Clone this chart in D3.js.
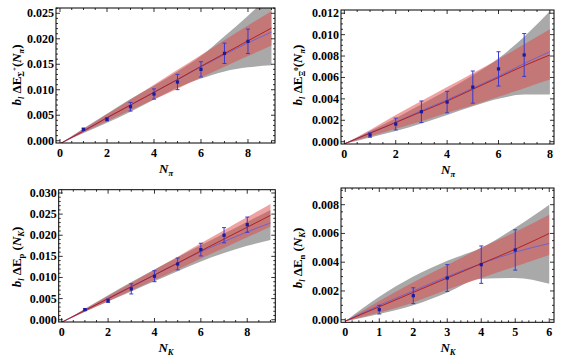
<!DOCTYPE html>
<html><head><meta charset="utf-8">
<script src="https://cdn.jsdelivr.net/npm/d3@7"></script>
<style>
body{margin:0;background:#fff;}
svg text{font-family:"Liberation Serif","Times New Roman","DejaVu Serif",serif;}
</style></head>
<body><svg id="c" width="561" height="357"></svg>
<script>
// ---------- DATA ----------
// Panel 1: Sigma+ vs N_pi
const p1PointsX = [1,2,3,4,5,6,7,8];
const p1PointsY = [0.00224,0.0042,0.00667,0.00916,0.01152,0.0140,0.01715,0.0195];
const p1Err     = [0.0002,0.0003,0.00085,0.001,0.0015,0.0015,0.002,0.0024];
const p1CurveX  = [0,1,2,3,4,5,6,7,8,9];
const p1Red     = [-0.0006,0.0019,0.0045,0.0070,0.0095,0.0120,0.0146,0.0171,0.0196,0.0221];
const p1Blue    = [-0.0006,0.0019,0.0045,0.0070,0.0095,0.0120,0.0145,0.0169,0.0192,0.0213];
const p1RedLo   = [-0.0006,0.0016,0.0038,0.0060,0.0081,0.0102,0.0124,0.0145,0.0166,0.0187];
const p1RedHi   = [-0.0006,0.0023,0.0052,0.0081,0.0110,0.0139,0.0168,0.0197,0.0226,0.0254];
const p1GrayLo  = [-0.0006,0.0015,0.0035,0.0057,0.0081,0.0104,0.0122,0.0136,0.0144,0.0148];
const p1GrayHi  = [-0.0006,0.0024,0.0053,0.0082,0.0108,0.0136,0.0166,0.0205,0.0245,0.0290];

// Panel 2: Xi0 vs N_pi
const p2PointsX = [1,2,3,4,5,6,7];
const p2PointsY = [0.00062,0.00165,0.0028,0.0037,0.0051,0.0068,0.0081];
const p2Err     = [0.0002,0.00055,0.001,0.001,0.0015,0.0016,0.002];
const p2CurveX  = [0,1,2,3,4,5,6,7,8];
const p2Red     = [-0.0002,0.0008,0.0018,0.0028,0.0038,0.0049,0.0060,0.0071,0.0081];
const p2Blue    = [-0.0002,0.0008,0.0018,0.0029,0.0039,0.0050,0.0061,0.0073,0.0084];
const p2RedLo   = [-0.0002,0.0005,0.0012,0.0019,0.0027,0.0034,0.0042,0.0050,0.0058];
const p2RedHi   = [-0.0002,0.0011,0.0025,0.0038,0.0051,0.0064,0.0077,0.0091,0.0105];
const p2GrayLo  = [-0.0002,0.0004,0.0010,0.0017,0.0025,0.0033,0.0040,0.0044,0.0044];
const p2GrayHi  = [-0.0002,0.0010,0.0022,0.0035,0.0048,0.0062,0.0078,0.0098,0.0122];

// Panel 3: proton vs N_K
const p3PointsX = [1,2,3,4,5,6,7,8];
const p3PointsY = [0.0024,0.0045,0.0073,0.0103,0.0132,0.0166,0.0200,0.0225];
const p3Err     = [0.0002,0.0004,0.0012,0.0013,0.0014,0.0015,0.0018,0.0018];
const p3CurveX  = [0,1,2,3,4,5,6,7,8,9];
const p3Red     = [-0.0006,0.0022,0.0050,0.0078,0.0106,0.0134,0.0163,0.0191,0.0219,0.0247];
const p3Blue    = [-0.0006,0.0022,0.0050,0.0078,0.0106,0.0134,0.0161,0.0185,0.0208,0.0229];
const p3RedLo   = [-0.0006,0.0019,0.0044,0.0069,0.0094,0.0119,0.0145,0.0170,0.0195,0.0220];
const p3RedHi   = [-0.0006,0.0025,0.0056,0.0087,0.0118,0.0149,0.0181,0.0212,0.0243,0.0274];
const p3GrayLo  = [-0.0006,0.0019,0.0043,0.0067,0.0091,0.0115,0.0138,0.0158,0.0175,0.0189];
const p3GrayHi  = [-0.0006,0.0026,0.0058,0.0089,0.0119,0.0148,0.0176,0.0204,0.0232,0.0260];

// Panel 4: neutron vs N_K
const p4PointsX = [1,2,3,4,5];
const p4PointsY = [0.0007,0.00167,0.0029,0.00383,0.00485];
const p4Err     = [0.0003,0.00055,0.00093,0.0013,0.0014];
const p4CurveX  = [0,1,2,3,4,5,6];
const p4Red     = [-0.0001,0.0009,0.0019,0.0029,0.0039,0.0049,0.0060];
const p4Blue    = [-0.0001,0.0010,0.0020,0.0030,0.0039,0.0047,0.0053];
const p4RedLo   = [-0.0001,0.0005,0.0012,0.0021,0.0029,0.0037,0.0045];
const p4RedHi   = [-0.0001,0.0013,0.0026,0.0038,0.0050,0.0061,0.0073];
const p4GrayLo  = [-0.0001,0.0004,0.0010,0.0019,0.00285,0.0029,0.0025];
const p4GrayHi  = [-0.0001,0.0016,0.0030,0.0041,0.0050,0.0064,0.0080];

// Tick labels
const p1XTicks = [0,2,4,6,8];
const p1YTicks = [0,0.005,0.010,0.015,0.020,0.025];
const p2XTicks = [0,2,4,6,8];
const p2YTicks = [0,0.002,0.004,0.006,0.008,0.010,0.012];
const p3XTicks = [0,2,4,6,8];
const p3YTicks = [0,0.005,0.010,0.015,0.020,0.025,0.030];
const p4XTicks = [0,1,2,3,4,5,6];
const p4YTicks = [0,0.002,0.004,0.006,0.008];

// ---------- DRAW ----------
const svg = d3.select("#c");

const panels = [
  {box:[56,275,8,143], xd:[-0.17,9.15], yd:[-0.00045,0.02604], xt:p1XTicks, yt:p1YTicks, xm:0.5, ym:0.001,
   px:p1PointsX, py:p1PointsY, pe:p1Err, cx:p1CurveX, red:p1Red, blue:p1Blue, rlo:p1RedLo, rhi:p1RedHi, glo:p1GrayLo, ghi:p1GrayHi,
   sub:"Σ", sup:"+", nsub:"π", ylab:[17,75], xlab:166},
  {box:[341,554,10,144], xd:[-0.13,8.16], yd:[-0.000215,0.0123], xt:p2XTicks, yt:p2YTicks, xm:0.5, ym:0.0005,
   px:p2PointsX, py:p2PointsY, pe:p2Err, cx:p2CurveX, red:p2Red, blue:p2Blue, rlo:p2RedLo, rhi:p2RedHi, glo:p2GrayLo, ghi:p2GrayHi,
   sub:"Ξ", sup:"0", nsub:"π", ylab:[298,75], xlab:448},
  {box:[58.7,275.3,189.7,322], xd:[-0.13,9.21], yd:[-0.00054,0.03078], xt:p3XTicks, yt:p3YTicks, xm:0.5, ym:0.001,
   px:p3PointsX, py:p3PointsY, pe:p3Err, cx:p3CurveX, red:p3Red, blue:p3Blue, rlo:p3RedLo, rhi:p3RedHi, glo:p3GrayLo, ghi:p3GrayHi,
   sub:"p", sup:null, nsub:"K", ylab:[17,257], xlab:166},
  {box:[341,554,188,322.3], xd:[-0.126,6.14], yd:[-0.00018,0.00916], xt:p4XTicks, yt:p4YTicks, xm:0.2, ym:0.0005,
   px:p4PointsX, py:p4PointsY, pe:p4Err, cx:p4CurveX, red:p4Red, blue:p4Blue, rlo:p4RedLo, rhi:p4RedHi, glo:p4GrayLo, ghi:p4GrayHi,
   sub:"n", sup:null, nsub:"K", ylab:[298,258], xlab:448}
];

panels.forEach((p,i)=>{
  const [L,R,T,B] = p.box;
  const x = d3.scaleLinear().domain(p.xd).range([L,R]);
  const y = d3.scaleLinear().domain(p.yd).range([B,T]);
  const g = svg.append("g");
  const cid = "clip"+i;
  svg.append("clipPath").attr("id",cid).append("rect").attr("x",L).attr("y",T).attr("width",R-L).attr("height",B-T);
  const pg = g.append("g").attr("clip-path",`url(#${cid})`);
  const idx = d3.range(p.cx.length);
  const area = (lo,hi)=>d3.area().curve(d3.curveMonotoneX).x(k=>x(p.cx[k])).y0(k=>y(lo[k])).y1(k=>y(hi[k]));
  const line = (v)=>d3.line().curve(d3.curveMonotoneX).x(k=>x(p.cx[k])).y(k=>y(v[k]));
  pg.append("path").attr("d",area(p.glo,p.ghi)(idx)).attr("fill","#a9a9a9");
  pg.append("path").attr("d",area(p.rlo,p.rhi)(idx)).attr("fill","rgb(222,70,70)").attr("fill-opacity",0.5);
  pg.append("path").attr("d",line(p.blue)(idx)).attr("fill","none").attr("stroke","#6b5fd0").attr("stroke-width",0.9);
  pg.append("path").attr("d",line(p.red)(idx)).attr("fill","none").attr("stroke","#b01818").attr("stroke-width",0.9);

  // error bars
  p.px.forEach((xv,k)=>{
    const cx = x(xv), yv=p.py[k], e=p.pe[k];
    pg.append("line").attr("x1",cx).attr("x2",cx).attr("y1",y(yv-e)).attr("y2",y(yv+e)).attr("stroke","#3a3ad0").attr("stroke-width",1);
    [yv-e,yv+e].forEach(v=>pg.append("line").attr("x1",cx-2).attr("x2",cx+2).attr("y1",y(v)).attr("y2",y(v)).attr("stroke","#3a3ad0").attr("stroke-width",1));
    pg.append("rect").attr("x",cx-1.6).attr("y",y(yv)-1.6).attr("width",3.2).attr("height",3.2).attr("fill","#1a1a9a");
  });

  // frame
  g.append("rect").attr("x",L).attr("y",T).attr("width",R-L).attr("height",B-T).attr("fill","none").attr("stroke","#000").attr("stroke-width",1);

  // ticks
  const xMinor = d3.range(Math.ceil(p.xd[0]/p.xm)*p.xm, p.xd[1]+1e-9, p.xm);
  const yMinor = d3.range(Math.ceil(p.yd[0]/p.ym)*p.ym, p.yd[1]+1e-12, p.ym);
  const tk = g.append("g").attr("stroke","#000").attr("stroke-width",0.8);
  xMinor.forEach(v=>{
    const major = p.xt.some(t=>Math.abs(t-v)<1e-9);
    const len = major?4:2;
    tk.append("line").attr("x1",x(v)).attr("x2",x(v)).attr("y1",B).attr("y2",B-len);
    tk.append("line").attr("x1",x(v)).attr("x2",x(v)).attr("y1",T).attr("y2",T+len);
  });
  yMinor.forEach(v=>{
    const major = p.yt.some(t=>Math.abs(t-v)<1e-9);
    const len = major?4:2;
    tk.append("line").attr("x1",L).attr("x2",L+len).attr("y1",y(v)).attr("y2",y(v));
    tk.append("line").attr("x1",R).attr("x2",R-len).attr("y1",y(v)).attr("y2",y(v));
  });

  // tick labels
  p.xt.forEach(v=>g.append("text").attr("x",x(v)).attr("y",B+14).attr("text-anchor","middle")
     .attr("font-size",12).attr("font-weight","bold").text(d3.format("d")(v)));
  p.yt.forEach(v=>g.append("text").attr("x",L-2).attr("y",y(v)+4).attr("text-anchor","end")
     .attr("font-size",12).attr("font-weight","bold").text(d3.format(".3f")(v)));

  // x label
  const xl = g.append("text").attr("x",p.xlab).attr("y",B+30).attr("text-anchor","middle").attr("font-size",13).attr("font-weight","bold");
  xl.append("tspan").attr("font-style","italic").text("N");
  xl.append("tspan").attr("font-style","italic").attr("font-size",8.5).attr("dy",3).text(p.nsub);

  // y label
  const yl = g.append("text").attr("transform",`translate(${p.ylab[0]+4},${p.ylab[1]}) rotate(-90)`)
    .attr("text-anchor","middle").attr("font-size",13).attr("font-weight","bold");
  yl.append("tspan").attr("font-style","italic").text("b");
  yl.append("tspan").attr("font-style","italic").attr("font-size",8.5).attr("dy",3).text("l");
  yl.append("tspan").attr("dy",-3).text(" ΔE");
  yl.append("tspan").attr("font-size",8.5).attr("dy",3).text(p.sub);
  if(p.sup){ yl.append("tspan").attr("font-size",7).attr("dy",-7).text(p.sup); yl.append("tspan").attr("dy",4).text("(");}
  else { yl.append("tspan").attr("dy",-3).text(" ("); }
  yl.append("tspan").attr("font-style","italic").text("N");
  yl.append("tspan").attr("font-style","italic").attr("font-size",8.5).attr("dy",3).text(p.nsub);
  yl.append("tspan").attr("dy",-3).text(")");
});
</script></body></html>
